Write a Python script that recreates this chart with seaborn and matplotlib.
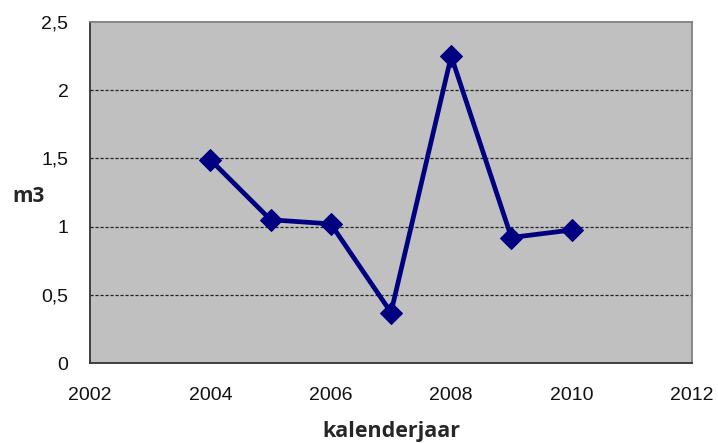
import matplotlib
matplotlib.use("Agg")
import matplotlib.pyplot as plt
import seaborn as sns
import pandas as pd

years = [2004, 2005, 2006, 2007, 2008, 2009, 2010]
values = [1.49, 1.05, 1.02, 0.37, 2.25, 0.92, 0.975]
x_ticks = [2002, 2004, 2006, 2008, 2010, 2012]
y_ticks = [0, 0.5, 1, 1.5, 2, 2.5]
y_tick_labels = ["0", "0,5", "1", "1,5", "2", "2,5"]

sns.set_style("white")
plt.rcParams['font.family'] = ['Liberation Sans', 'DejaVu Sans']

df = pd.DataFrame({"jaar": years, "m3": values})

fig = plt.figure(figsize=(7.18, 4.43), dpi=100)
ax = fig.add_axes([90/718, 1-363/443, (692-90)/718, (363-22)/443])
ax.set_facecolor("#C0C0C0")

for y in y_ticks[1:-1]:
    ax.axhline(y, color="#222222", lw=0.9, ls=(0, (2.5, 1.5)), zorder=1)

sns.lineplot(data=df, x="jaar", y="m3", ax=ax, color="#000080", lw=3.4,
             marker="D", markersize=11, markeredgecolor="#000080", zorder=3)

ax.set_xlim(2002, 2012)
ax.set_ylim(0, 2.5)
ax.set_xticks(x_ticks)
ax.set_xticklabels([str(t) for t in x_ticks], fontsize=14, color="#111111")
ax.set_yticks(y_ticks)
ax.set_yticklabels(y_tick_labels, fontsize=14, color="#111111")
ax.tick_params(axis="both", direction="out", length=5, width=1, color="#333333")
ax.tick_params(axis="x", pad=12)
ax.tick_params(axis="y", pad=10.5)

for s in ["left", "bottom"]:
    ax.spines[s].set_color("#333333")
    ax.spines[s].set_linewidth(1.3)
for s in ["top", "right"]:
    ax.spines[s].set_color("#808080")
    ax.spines[s].set_linewidth(1.3)

ax.set_xlabel("kalenderjaar", fontsize=15.5, fontweight="bold", family=["Open Sans", "DejaVu Sans"], va="center")
ax.xaxis.set_label_coords(0.5, (363-431)/341)
ax.set_ylabel("m3", fontsize=15, fontweight="bold", family=["Open Sans", "DejaVu Sans"], rotation=0, va="center", ha="center")
ax.yaxis.set_label_coords((29-90)/602, (363-197)/341)

fig.savefig("out.png", dpi=100)
